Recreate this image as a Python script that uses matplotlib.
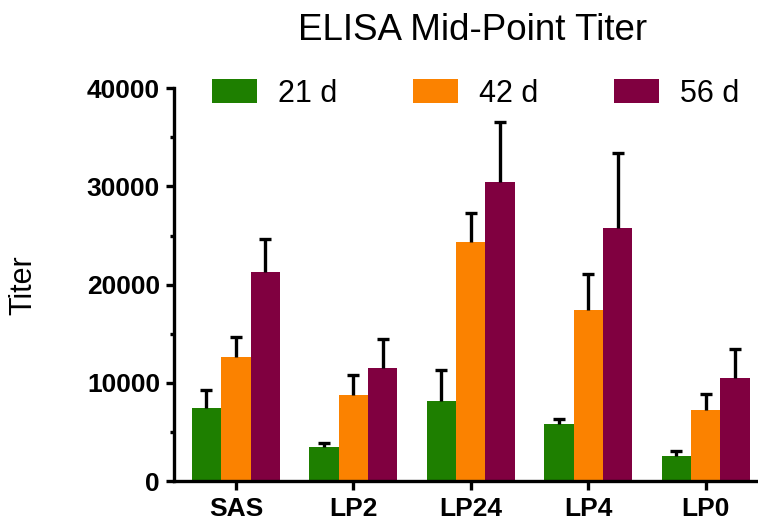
import numpy as np
import matplotlib
matplotlib.use("Agg")
import matplotlib.pyplot as plt
from matplotlib.ticker import MultipleLocator

plt.rcParams["font.family"] = ["Liberation Sans", "DejaVu Sans"]

# Data
groups = ["SAS", "LP2", "LP24", "LP4", "LP0"]
series = ["21 d", "42 d", "56 d"]
titer_21 = [7400, 3450, 8200, 5850, 2550]
titer_42 = [12650, 8800, 24300, 17450, 7250]
titer_56 = [21300, 11550, 30500, 25800, 10500]
err_21 = [1900, 450, 3150, 450, 500]
err_42 = [2000, 1950, 3000, 3600, 1600]
err_56 = [3300, 2950, 6100, 7650, 2950]

COLORS = ["#1E7F00", "#FB8200", "#800040"]
LW = 2.4

fig = plt.figure(figsize=(7.58, 5.25), dpi=100)
ax = fig.add_axes([0.2295, 0.0838, 0.7705, 0.748])

x = np.arange(len(groups))
w = 0.25
for i, (vals, errs) in enumerate(zip([titer_21, titer_42, titer_56],
                                     [err_21, err_42, err_56])):
    pos = x + (i - 1) * w
    tops = np.array(vals) + np.array(errs)
    ax.bar(pos, vals, width=w, color=COLORS[i], label=series[i], zorder=2)
    # upper-only error bars with a single cap
    ax.vlines(pos, vals, tops, color="black", linewidth=LW, zorder=3)
    ax.plot(pos, tops, linestyle="none", marker="_", markersize=9,
            markeredgewidth=LW, color="black", zorder=3)

ax.set_xlim(-0.527, 4.445)
ax.set_ylim(0, 40000)
ax.yaxis.set_major_locator(MultipleLocator(10000))
ax.yaxis.set_minor_locator(MultipleLocator(5000))
ax.set_xticks(x)
ax.set_xticklabels(groups, fontsize=19, fontweight="bold")
for lab in ax.get_yticklabels():
    lab.set_fontweight("bold")
ax.tick_params(axis="y", labelsize=19, width=LW, length=6, pad=4)
ax.tick_params(axis="y", which="minor", width=LW, length=3)
ax.tick_params(axis="x", width=LW, length=6.5, pad=5)

for s in ["top", "right"]:
    ax.spines[s].set_visible(False)
for s in ["left", "bottom"]:
    ax.spines[s].set_linewidth(LW)

fig.text(0.0303, 0.457, "Titer", fontsize=22, rotation=90, ha="center", va="center")
fig.text(0.623, 0.942, "ELISA Mid-Point Titer", fontsize=26.5, ha="center", va="center")

fig.legend(loc="center", bbox_to_anchor=(0.627, 0.821), ncol=3, frameon=False,
           fontsize=22, handlelength=1.47, handleheight=0.82, handletextpad=0.69,
           columnspacing=2.48, borderpad=0)

fig.savefig("out.png", dpi=100)
